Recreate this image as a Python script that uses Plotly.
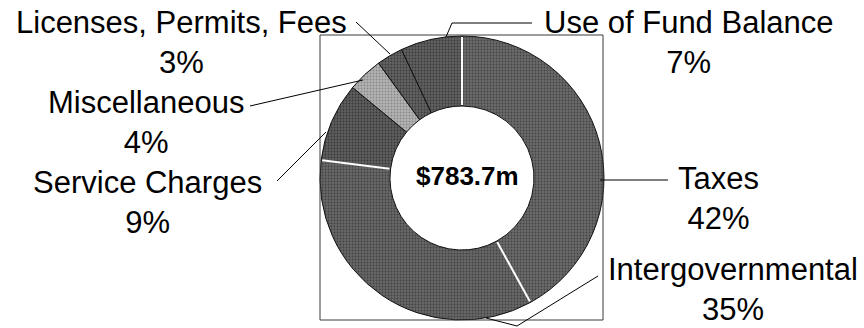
import math
import plotly.graph_objects as go

# Revenue sources (share of total, %)
categories = ["Taxes", "Intergovernmental", "Service Charges",
              "Miscellaneous", "Licenses, Permits, Fees", "Use of Fund Balance"]
shares = [42, 35, 9, 4, 3, 7]
total_label = "$783.7m"

W, H = 864, 328
CX, CY, R_OUT, R_IN = 462, 178, 142, 72

fills = ["#6a6a6a", "#676767", "#5e5e5e", "#b4b4b4", "#626262", "#606060"]
grain = ["#444444", "#424242", "#383838", "#888888", "#3c3c3c", "#3a3a3a"]


def px(x):
    return x / W


def py(y):
    return 1 - y / H


fig = go.Figure()
fig.add_trace(go.Pie(
    labels=categories,
    values=shares,
    sort=False,
    direction="clockwise",
    rotation=0,
    hole=R_IN / R_OUT,
    textinfo="none",
    hoverinfo="label+percent",
    showlegend=False,
    marker=dict(
        colors=fills,
        line=dict(color="#111111", width=1),
        pattern=dict(shape=".", size=3, solidity=0.3,
                     fgcolor=grain, bgcolor=fills, fillmode="replace"),
    ),
    domain=dict(x=[px(CX - R_OUT), px(CX + R_OUT)],
                y=[py(CY + R_OUT), py(CY - R_OUT)]),
))

shapes = []
# frame around the ring
shapes.append(dict(type="rect", xref="paper", yref="paper",
                   x0=px(320), x1=px(603), y0=py(320), y1=py(35),
                   line=dict(color="#3a3a3a", width=1)))

# light separators at selected slice boundaries
cum = [0]
for s in shares:
    cum.append(cum[-1] + s)
for idx in (0, 1, 2):
    theta = math.radians(360 * cum[idx] / sum(shares))
    x0 = CX + (R_IN + 1) * math.sin(theta)
    y0 = CY - (R_IN + 1) * math.cos(theta)
    x1 = CX + (R_OUT - 1) * math.sin(theta)
    y1 = CY - (R_OUT - 1) * math.cos(theta)
    shapes.append(dict(type="line", xref="paper", yref="paper",
                       x0=px(x0), y0=py(y0), x1=px(x1), y1=py(y1),
                       line=dict(color="white", width=2)))

# leader lines from labels to slices (pixel paths)
leaders = {
    "Taxes": [(600, 180), (668, 180)],
    "Intergovernmental": [(598, 276), (517, 326), (486, 318)],
    "Service Charges": [(277, 181), (326, 132)],
    "Miscellaneous": [(250, 106), (363, 80)],
    "Licenses, Permits, Fees": [(356, 22), (390, 54)],
    "Use of Fund Balance": [(532, 23), (452, 23), (446, 37)],
}
for pts in leaders.values():
    path = "M " + " L ".join(f"{px(x)} {py(y)}" for x, y in pts)
    shapes.append(dict(type="path", xref="paper", yref="paper", path=path,
                       line=dict(color="black", width=1)))

# label block centres (pixels)
label_pos = {
    "Taxes": (718, 198),
    "Intergovernmental": (733, 289),
    "Service Charges": (147, 202),
    "Miscellaneous": (146, 122),
    "Licenses, Permits, Fees": (181, 42),
    "Use of Fund Balance": (689, 42),
}
font = dict(family="Liberation Sans, Arial, sans-serif", size=31, color="black")
annotations = []
for name, share in zip(categories, shares):
    x, y = label_pos[name]
    annotations.append(dict(
        x=px(x), y=py(y), xref="paper", yref="paper",
        text=f"{name}<br>{share}%", showarrow=False,
        xanchor="center", yanchor="middle", align="center", font=font,
    ))
annotations.append(dict(
    x=px(467), y=py(176), xref="paper", yref="paper",
    text=f"<b>{total_label}</b>", showarrow=False,
    xanchor="center", yanchor="middle",
    font=dict(family="Liberation Sans, Arial, sans-serif", size=26, color="black"),
))

fig.update_layout(
    width=W, height=H,
    margin=dict(l=0, r=0, t=0, b=0),
    paper_bgcolor="white", plot_bgcolor="white",
    shapes=shapes, annotations=annotations,
)

fig.write_html("out.html")
